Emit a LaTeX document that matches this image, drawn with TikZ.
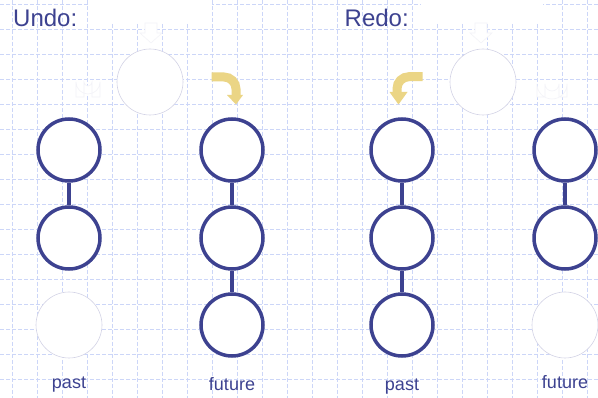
\documentclass[tikz,border=0pt]{standalone}
\usepackage{fontspec}
\setmainfont{Liberation Sans}
\definecolor{navy}{HTML}{3D4290}
\definecolor{gridblue}{HTML}{CCD6F8}
\definecolor{ghost}{HTML}{D3D3E6}
\definecolor{ghostw}{HTML}{F3F3F8}
\definecolor{gold}{HTML}{EBD585}
\tikzset{
  gridline/.style={draw=gridblue, line width=1pt, dash pattern=on 4pt off 2pt},
  cnode/.style={circle, draw=navy, line width=3.5pt, fill=white, minimum size=62pt, inner sep=0pt},
  fnode/.style={circle, draw=ghost, line width=0.6pt, fill=white, minimum size=66pt, inner sep=0pt},
  conn/.style={draw=navy, line width=4.5pt},
  lbl/.style={text=navy, font=\fontsize{18}{20}\selectfont, anchor=base, inner sep=0pt},
  ttl/.style={text=navy, font=\fontsize{24}{28}\selectfont, anchor=base west, inner sep=0pt},
  ghostarrow/.style={fill=white, draw=ghostw, line width=0.6pt},
  band/.style={draw=gold, line width=9pt, rounded corners=12pt},
  head/.style={fill=gold, draw=none}
}
\begin{document}
\begin{tikzpicture}[x=1pt, y=-1pt]
\useasboundingbox (0,0) rectangle (598,398);
\fill[white] (0,0) rectangle (598,398);
% grid
\foreach \gx in {12,37,...,587} { \draw[gridline] (\gx,0) -- (\gx,398); }
\foreach \gy in {5,30,...,380} { \draw[gridline] (0,\gy) -- (598,\gy); }
% white patches
\fill[white] (88,0) rectangle (212,23);
\fill[white] (421,0) rectangle (543,23);
% ghost arrows
\path[ghostarrow] (145,23) -- (157,23) -- (157,33) -- (162,33) -- (151,43) -- (140,33) -- (145,33) -- cycle;
\path[ghostarrow] (475,23) -- (487,23) -- (487,33) -- (492,33) -- (481,43) -- (470,33) -- (475,33) -- cycle;
\path[ghostarrow] (76,97) -- (76,82) arc[start angle=180, end angle=0, radius=12] -- (100,97) -- (92,97) -- (92,82) arc[start angle=0, end angle=180, radius=4] -- (84,97) -- cycle;
\path[ghostarrow] (537,97) -- (537,84) arc[start angle=180, end angle=0, radius=15] -- (567,97) -- (559,97) -- (559,84) arc[start angle=0, end angle=180, radius=7] -- (545,97) -- cycle;
% faint circles
\node[fnode] (ut) at (150,82) {};
\node[fnode] (up3) at (69,325) {};
\node[fnode] (rt) at (483,82) {};
\node[fnode] (rf3) at (565,325) {};
% titles
\node[ttl] (tundo) at (13,26.7) {Undo:};
\node[ttl] (tredo) at (344.5,26.7) {Redo:};
% yellow arrows
\draw[band] (211.5,77) -- (236,77) -- (236,96);
\fill[head] (227,95) -- (243,95) -- (236,104.5) -- cycle;
\draw[band] (422.5,76.7) -- (397,76.7) -- (397,93);
\fill[head] (389.5,92) -- (407.5,92) -- (398.5,104.5) -- cycle;
% Undo past
\node[cnode] (up1) at (69,150) {};
\node[cnode] (up2) at (69,238) {};
\draw[conn] (up1) -- (up2);
% Undo future
\node[cnode] (uf1) at (232,150) {};
\node[cnode] (uf2) at (232,238) {};
\node[cnode] (uf3) at (232,325) {};
\draw[conn] (uf1) -- (uf2);
\draw[conn] (uf2) -- (uf3);
% Redo past
\node[cnode] (rp1) at (402,150) {};
\node[cnode] (rp2) at (402,238) {};
\node[cnode] (rp3) at (402,325) {};
\draw[conn] (rp1) -- (rp2);
\draw[conn] (rp2) -- (rp3);
% Redo future
\node[cnode] (rf1) at (565,150) {};
\node[cnode] (rf2) at (565,238) {};
\draw[conn] (rf1) -- (rf2);
% labels
\node[lbl] (lup) at (69,389) {past};
\node[lbl] (luf) at (232,391) {future};
\node[lbl] (lrp) at (402,391) {past};
\node[lbl] (lrf) at (565,389) {future};
\end{tikzpicture}
\end{document}
